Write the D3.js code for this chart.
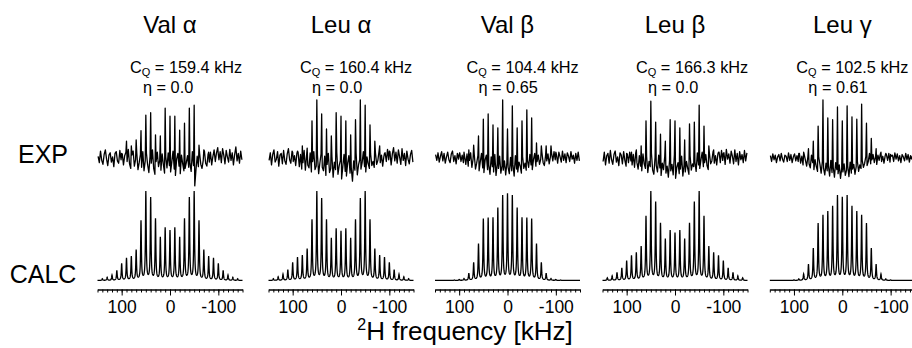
<!DOCTYPE html>
<html><head><meta charset="utf-8">
<script src="https://cdn.jsdelivr.net/npm/d3@7"></script>
<style>body{margin:0;background:#fff}svg{display:block;font-family:"Liberation Sans",Arial,Helvetica,sans-serif}</style>
</head><body><svg id="c" width="912" height="348"></svg>
<script>
// ---------- data ----------
const panelTitles = ["Val α", "Leu α", "Val β", "Leu β", "Leu γ"];
const cqValues = ["159.4", "160.4", "104.4", "166.3", "102.5"];
const etaValues = ["0.0", "0.0", "0.65", "0.0", "0.61"];
const rowLabels = ["EXP", "CALC"];
const majorTicks = [100, 0, -100];

// calculated sideband intensities (relative, 100 = tallest), 10 kHz spinning
const calcFreqs = [140,130,120,110,100,90,80,70,60,50,40,30,20,10,0,-10,-20,-30,-40,-50,-60,-70,-80,-90,-100,-110,-120,-130,-140];
const calcValA = [2,3.5,6,11,19,25,27,34,67,100,93,69,48,59,56,59,48,69,93,100,67,34,27,25,19,11,6,3.5,2];
const calcLeuA = [2,4,7,12,20,26,28,35,68,100,92,68,47,58,55,58,47,68,92,100,68,35,28,26,20,12,7,4,2];
const calcValB = [0,0,0,0.5,1,2,8,20,41,69,70,70,81,95,97,95,81,70,70,69,41,20,8,2,1,0.5,0,0,0];
const calcLeuB = [3,5,9,14,22,28,31,38,72,100,88,64,46,56,53,56,46,64,88,100,72,38,31,28,22,14,9,5,3];
const calcLeuG = [0,0,0,0,0.5,1.5,7,18,36,64,73,77,83,95,93,95,83,77,73,64,36,18,7,1.5,0.5,0,0,0,0];

// experimental sideband intensities (relative)
const expFreqs = [100,90,80,70,60,50,40,30,20,10,0,-10,-20,-30,-40,-50,-60,-70,-80,-90,-100];
const expValA = [8,29,21,31,47,74,78,40,38,86,72,72,48,60,86,91,22,14,10,8,6];
const expLeuA = [10,12,21,17,64,100,76,50,38,78,72,64,40,66,100,91,57,29,21,8,12];
const expValB = [6,10,14,22,38,67,76,57,52,100,50,90,52,64,83,69,26,21,21,21,10];
const expLeuB = [8,10,14,21,64,98,62,41,29,66,64,52,31,59,62,91,55,21,14,10,8];
const expLeuG = [5,8,10,16,29,55,100,69,66,88,64,90,71,67,93,60,34,16,10,8,6];

// experimental noise, sampled every 2.5 kHz from 148.75 to -148.75 kHz
const noiseValA = [3,-8,12,-4,-11,6,14,-2,-13,5,9,-7,2,-15,8,11,-5,-9,13,-3,7,-12,4,10,
 -6,15,-10,-18,5,12,-14,-3,9,-20,-8,6,-16,11,-22,-5,8,-12,-25,3,
 -9,14,-18,-28,-6,10,-15,-4,-21,7,-11,-26,2,-17,9,-13,
 -24,-7,12,-19,-30,-2,8,-14,-27,5,-10,-22,-18,-8,4,-16,
 -9,-23,11,-13,-48,-20,3,-15,8,-11,-18,-4,12,-9,-14,6,-7,10,-12,3,
 14,-6,9,18,-3,11,-8,16,5,-10,13,2,-7,15,-4,9,-12,6,19,-5,8,-9,12,-3];
const noiseLeuA = [-4,9,-12,6,14,-7,-2,11,-14,5,8,-10,13,-5,-11,7,16,-3,-9,12,-6,4,-13,8,
 10,-15,6,-19,-8,13,-21,4,-12,-17,9,-24,-6,11,-20,-14,5,-27,-9,7,
 -16,-22,3,-30,-11,8,-25,-18,2,-33,-7,-20,10,-28,-13,-4,
 -36,-15,6,-23,-31,-9,4,-26,-17,-40,-5,-21,8,-29,-12,-3,
 -19,-8,11,-15,-24,2,-10,-18,7,-13,-6,-16,9,-11,-4,12,-8,5,-14,3,
 9,-6,15,-3,11,-12,7,18,-5,10,-9,14,2,-11,16,-4,8,-13,12,-2,-10,6,13,-7];
const noiseValB = [6,-4,9,-7,3,11,-5,8,-9,2,10,-3,-8,7,12,-6,4,-10,8,-2,9,-6,5,-8,
 3,-11,7,-14,-4,9,-16,-2,6,-19,-9,4,-22,-6,8,-17,-25,-3,5,-20,
 -12,-28,2,-15,-24,6,-30,-10,-18,3,-26,-13,-21,-5,-29,-8,
 -16,-27,1,-22,-11,-31,4,-19,-24,-7,-14,-26,2,-18,-9,-21,
 -4,-16,6,-12,-20,-3,8,-14,-6,5,-11,-2,9,-8,-13,4,-5,7,-10,2,
 8,-5,11,-3,6,-9,10,2,-7,12,-4,7,-8,9,3,-6,11,-2,5,-9,8,-4,10,-5];
const noiseLeuB = [-6,10,-12,4,8,-9,13,-3,-11,6,12,-7,2,-13,9,5,-10,11,-4,-14,7,-8,10,-5,
 -12,6,-16,9,-8,-19,4,-14,-22,7,-10,-18,3,-25,-6,-15,8,-21,-28,1,
 -13,-24,5,-17,-30,-9,-20,2,-26,-14,-33,-4,-22,-11,-29,6,
 -35,-16,-8,-27,-19,3,-31,-12,-24,-6,-18,-28,4,-21,-10,-15,
 -7,-23,9,-12,-18,-3,10,-15,-8,6,-13,-20,8,-10,-5,11,-9,4,-12,7,
 10,-8,13,-4,9,-11,15,-2,7,-9,12,3,-10,14,-6,8,-12,11,-3,6,-8,13,-5,9];
const noiseLeuG = [4,-6,7,-3,5,-8,2,6,-5,8,-2,-7,5,3,-6,9,-4,6,-8,2,7,-5,4,-6,
 8,-9,3,-12,6,-4,-14,2,-10,-17,5,-8,-20,-3,-15,-23,1,-11,-26,-6,
 -18,-29,-9,-22,-13,-31,-4,-25,-16,-33,-8,-20,-27,-12,-35,-18,
 -24,-10,-30,-21,-14,-32,-7,-26,-19,-11,-28,-15,-6,-23,-12,-18,
 -4,-16,-9,3,-13,-6,8,-10,-3,6,-8,2,-11,5,-4,7,-6,3,-9,4,
 6,-4,8,-7,3,5,-6,9,-2,7,-5,4,-8,6,2,-5,8,-3,6,-7,4,-2,7,-5];

const calcSeries = [calcValA, calcLeuA, calcValB, calcLeuB, calcLeuG];
const expSeries = [expValA, expLeuA, expValB, expLeuB, expLeuG];
const noiseSeries = [noiseValA, noiseLeuA, noiseValB, noiseLeuB, noiseLeuG];

// ---------- layout ----------
const panelCenters = [170, 341, 507.5, 675, 842.3];
const cqOffsets = [-40, -41, -41, -39, -46];
const etaOffsets = [-27, -29, -29, -27, -34];
const halfWidth = 72.5;
const svg = d3.select("#c");
const yExp = d3.scaleLinear().domain([0, 100]).range([158, 100]);
const yCalc = d3.scaleLinear().domain([0, 100]).range([280.5, 192.5]);
const gamma = 0.9;
const axisY = 289.5;

rowLabels.forEach((t, i) => {
  svg.append("text").attr("x", 43).attr("y", i === 0 ? 163 : 283)
    .attr("text-anchor", "middle").attr("font-size", 25).text(t);
});

panelCenters.forEach((c, p) => {
  const x = d3.scaleLinear().domain([150, -150]).range([c - halfWidth, c + halfWidth]);
  const g = svg.append("g");

  g.append("text").attr("x", c).attr("y", 33).attr("text-anchor", "middle")
    .attr("font-size", 24).text(panelTitles[p]);

  const cq = g.append("text").attr("x", c + cqOffsets[p]).attr("y", 72.5).attr("font-size", 16.3);
  cq.append("tspan").text("C");
  cq.append("tspan").attr("font-size", 11).attr("dy", 3).text("Q");
  cq.append("tspan").attr("dy", -3).text(" = " + cqValues[p] + " kHz");
  g.append("text").attr("x", c + etaOffsets[p]).attr("y", 93).attr("font-size", 16.3)
    .text("η = " + etaValues[p]);

  // EXP trace: noise points merged with sideband points
  const noise = noiseSeries[p];
  const pts = noise.map((v, i) => [148.75 - 2.5 * i, v]);
  expSeries[p].forEach((v, i) => pts.push([expFreqs[i], v]));
  pts.sort((a, b) => b[0] - a[0]);
  g.append("path").datum(pts)
    .attr("d", d3.line().x(d => x(d[0])).y(d => yExp(d[1])))
    .attr("fill", "none").attr("stroke", "#000").attr("stroke-width", 1.3)
    .attr("stroke-linejoin", "round");

  // CALC trace: Lorentzian-broadened sidebands
  const hs = calcSeries[p];
  const fs = d3.range(150, -150.001, -0.25);
  const cpts = fs.map(f => [f, d3.sum(hs, (h, k) => h / (1 + Math.pow((f - calcFreqs[k]) / gamma, 2)))]);
  g.append("path").datum(cpts)
    .attr("d", d3.line().x(d => x(d[0])).y(d => yCalc(d[1])))
    .attr("fill", "none").attr("stroke", "#000").attr("stroke-width", 1.3);

  // axes
  const minor = d3.axisBottom(x).tickValues(d3.range(150, -151, -10)).tickSize(3)
    .tickSizeOuter(0).tickFormat("");
  const major = d3.axisBottom(x).tickValues(majorTicks).tickSize(6).tickSizeOuter(0)
    .tickPadding(5).tickFormat(d => String(d));
  const ga = g.append("g").attr("transform", `translate(0,${axisY})`).call(minor);
  const gb = g.append("g").attr("transform", `translate(0,${axisY})`).call(major);
  [ga, gb].forEach(a => {
    a.select(".domain").attr("stroke-width", 1.3);
    a.selectAll(".tick line").attr("stroke-width", 1);
  });
  gb.select(".domain").remove();
  gb.selectAll("text").attr("font-size", 17.5).attr("fill", "#000")
    .attr("font-family", '"Liberation Sans",Arial,sans-serif');
});

const t = svg.append("text").attr("x", 465).attr("y", 340).attr("text-anchor", "middle")
  .attr("font-size", 26);
t.append("tspan").attr("font-size", 16).attr("dy", -10).text("2");
t.append("tspan").attr("dy", 10).text("H frequency [kHz]");
</script>
</body></html>
